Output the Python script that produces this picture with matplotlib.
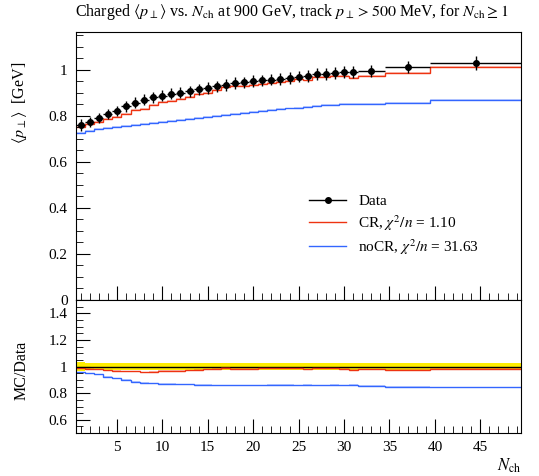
import numpy as np
import matplotlib
matplotlib.use('Agg')
import matplotlib.pyplot as plt
from matplotlib.ticker import MultipleLocator, FuncFormatter
from matplotlib.lines import Line2D

plt.rcParams['font.family'] = ['Liberation Serif', 'DejaVu Serif']
plt.rcParams['mathtext.fontset'] = 'stix'

# bin edges in N_ch
edges = [0.5, 1.5, 2.5, 3.5, 4.5, 5.5, 6.5, 7.5, 8.5, 9.5, 10.5, 11.5, 12.5, 13.5,
         14.5, 15.5, 16.5, 17.5, 18.5, 19.5, 20.5, 21.5, 22.5, 23.5, 24.5, 25.5,
         26.5, 27.5, 28.5, 29.5, 30.5, 31.5, 34.5, 39.5, 49.5]

# data <pT> [GeV]
data = [0.761, 0.775, 0.790, 0.809, 0.823, 0.841, 0.858, 0.870, 0.881, 0.888,
        0.896, 0.901, 0.907, 0.915, 0.921, 0.928, 0.935, 0.942, 0.946, 0.951,
        0.954, 0.957, 0.961, 0.965, 0.971, 0.975, 0.980, 0.983, 0.986, 0.989,
        0.990, 0.997, 1.012, 1.029]
data_err = [0.027, 0.022, 0.022, 0.022, 0.022, 0.023, 0.023, 0.023, 0.024, 0.024,
            0.024, 0.024, 0.024, 0.025, 0.025, 0.025, 0.025, 0.025, 0.025, 0.025,
            0.025, 0.025, 0.025, 0.026, 0.026, 0.026, 0.026, 0.026, 0.026, 0.026,
            0.026, 0.026, 0.027, 0.030]

# CR tune
cr = [0.750, 0.763, 0.773, 0.786, 0.796, 0.810, 0.826, 0.831, 0.848, 0.859,
      0.866, 0.874, 0.882, 0.894, 0.901, 0.912, 0.926, 0.928, 0.930, 0.935,
      0.940, 0.943, 0.947, 0.953, 0.959, 0.954, 0.968, 0.971, 0.974, 0.974,
      0.965, 0.975, 0.987, 1.012]

# noCR tune
nocr = [0.727, 0.736, 0.743, 0.748, 0.750, 0.756, 0.760, 0.765, 0.770, 0.773,
        0.778, 0.782, 0.786, 0.790, 0.794, 0.798, 0.802, 0.808, 0.812, 0.817,
        0.821, 0.824, 0.828, 0.832, 0.836, 0.840, 0.843, 0.846, 0.849, 0.851,
        0.853, 0.852, 0.858, 0.868]

edges = np.array(edges)
data = np.array(data)
data_err = np.array(data_err)
cr = np.array(cr)
nocr = np.array(nocr)
centers = 0.5 * (edges[1:] + edges[:-1])
halfw = 0.5 * (edges[1:] - edges[:-1])

red = '#ee3311'
blue = '#3366ff'

fig = plt.figure(figsize=(5.39, 4.76), dpi=100)
ax = fig.add_axes([0.141, 0.370, 0.826, 0.563])
rax = fig.add_axes([0.141, 0.090, 0.826, 0.280], sharex=ax)

mc_err = 0.004
for vals, col in [(nocr, blue), (cr, red)]:
    ax.stairs(vals + mc_err, edges, baseline=vals - mc_err, fill=True, color=col, alpha=0.25, lw=0)
    ax.stairs(vals, edges, baseline=None, color=col, lw=1.0)
ax.errorbar(centers, data, yerr=data_err, xerr=halfw, fmt='o', color='black',
            ms=4, lw=1.0, capsize=0, zorder=5)

# ratio panel
rel = data_err / data
rax.stairs(1 + rel, edges, baseline=1 - rel, fill=True, color='#ffee00', lw=0)
rax.stairs(np.ones_like(data), edges, baseline=None, color='black', lw=1.0)
for vals, col in [(nocr, blue), (cr, red)]:
    r = vals / data
    rax.stairs(r + mc_err / data, edges, baseline=r - mc_err / data, fill=True,
               color=col, alpha=0.3, lw=0)
    rax.stairs(r, edges, baseline=None, color=col, lw=1.0)

fmt = FuncFormatter(lambda v, p: '%g' % round(v, 3))
for a in (ax, rax):
    a.set_xlim(0.5, 49.5)
    a.xaxis.set_major_locator(MultipleLocator(5))
    a.xaxis.set_minor_locator(MultipleLocator(1))
    a.yaxis.set_minor_locator(MultipleLocator(0.05))
    a.yaxis.set_major_formatter(fmt)
    a.tick_params(which='both', direction='in', top=False, right=False, labelsize=11)
    a.tick_params(which='major', length=10, width=0.8, pad=6)
    a.tick_params(which='minor', length=5, width=0.6)
    for s in a.spines.values():
        s.set_linewidth(0.8)

ax.set_ylim(0, 1.165)
ax.yaxis.set_major_locator(MultipleLocator(0.2))
ax.tick_params(labelbottom=False)

rax.set_ylim(0.5, 1.5)
rax.set_yticks([0.6, 0.8, 1.0, 1.2, 1.4])

handles = [Line2D([], [], color='black', marker='o', ms=4, lw=1.0),
           Line2D([], [], color=red, lw=1.0),
           Line2D([], [], color=blue, lw=1.0)]
labels = ['Data', r'CR, $\chi^2/n$ = 1.10', r'noCR, $\chi^2/n$ = 31.63']
ax.legend(handles, labels, loc='upper left', bbox_to_anchor=(0.51, 0.415), frameon=False,
          fontsize=11, handlelength=2.4, labelspacing=0.3, borderaxespad=0)

fig.text(75 / 539, 0.975,
         r'Charged $\langle p_\perp\rangle$ vs. $N_\mathrm{ch}$ at 900 GeV, track $p_\perp > 500$ MeV, for $N_\mathrm{ch} \geq 1$',
         ha='left', va='center', fontsize=11.5)

fig.text(0.037, 1 - 62 / 476, r'$\langle p_\perp\rangle$  [GeV]', rotation=90,
         ha='center', va='top', fontsize=11.5)
fig.text(0.040, 1 - 370 / 476, 'MC/Data', rotation=90, ha='center', va='center', fontsize=11.5)
fig.text(0.968, 0.021, r'$N_\mathrm{ch}$', ha='right', va='center', fontsize=12)

fig.savefig('out.png', dpi=100)
